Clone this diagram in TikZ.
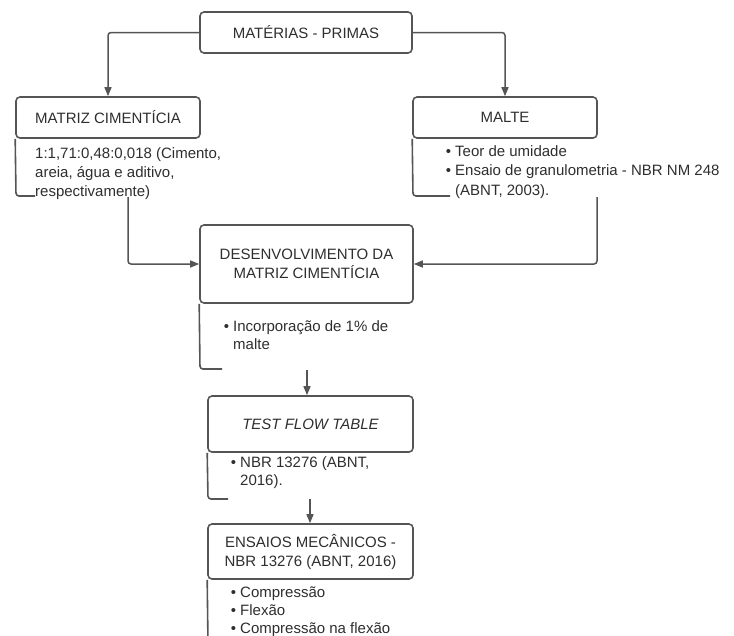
\documentclass[tikz,border=0pt]{standalone}
\usepackage{fontspec}
\setmainfont{Liberation Sans}
\usetikzlibrary{arrows.meta}
\definecolor{lc}{HTML}{555555}
\definecolor{tc}{HTML}{2E2E2E}
\newcommand{\fs}{\fontsize{15}{19}\selectfont}
\newcommand{\bul}{\llap{\textbullet\ }}
\tikzset{
  box/.style={draw=lc, line width=1.6pt, rounded corners=4pt, inner sep=0pt,
    font=\fs, text=tc, align=center},
  brk/.style={draw=lc, line width=1.6pt, rounded corners=3pt},
  arr/.style={draw=lc, line width=1.5pt, rounded corners=3pt,
    -{Triangle[length=9pt,width=7pt]}},
  ln/.style={anchor=base west, inner sep=0pt, font=\fs, text=tc}
}
\begin{document}
\begin{tikzpicture}[x=1pt,y=-1pt]
\useasboundingbox (0,0) rectangle (734,635);
% boxes
\node[box, minimum width=212pt, minimum height=41pt] (top) at (306,32.5) {MATÉRIAS - PRIMAS};
\node[box, minimum width=184pt, minimum height=41pt] (matriz) at (108,117.5) {MATRIZ CIMENTÍCIA};
\node[box, minimum width=184pt, minimum height=41pt] (malte) at (505,117.5) {MALTE};
\node[box, minimum width=213pt, minimum height=78pt] (desenv) at (306.5,264) {DESENVOLVIMENTO DA\\MATRIZ CIMENTÍCIA};
\node[box, minimum width=205pt, minimum height=56pt] (test) at (310.5,424) {\itshape TEST FLOW TABLE};
\node[box, minimum width=205pt, minimum height=55pt] (ensaios) at (310.5,551.5) {ENSAIOS MECÂNICOS -\\NBR 13276 (ABNT, 2016)};
% brackets
\draw[brk] (matriz.south west) -- (16,196) -- (35,196);
\draw[brk] (malte.south west) -- (413,196) -- (450,196);
\draw[brk] (desenv.south west) -- (200,369) -- (222,369);
\draw[brk] (test.south west) -- (208,499) -- (228,499);
\draw[brk] (ensaios.south west) -- (208,645);
% bracket texts
\node[ln] (m1) at (35,158) {1:1,71:0,48:0,018 (Cimento,};
\node[ln] (m2) at (35,177) {areia, água e aditivo,};
\node[ln] (m3) at (35,196) {respectivamente)};
\node[ln] (t1) at (455,156) {\bul Teor de umidade};
\node[ln] (t2) at (455,175) {\bul Ensaio de granulometria - NBR NM 248};
\node[ln] (t3) at (455,195) {(ABNT, 2003).};
\node[ln] (d1) at (233,331) {\bul Incorporação de 1\% de};
\node[ln] (d2) at (233,349) {malte};
\node[ln] (f1) at (240,467) {\bul NBR 13276 (ABNT,};
\node[ln] (f2) at (240,485) {2016).};
\node[ln] (e1) at (240,597) {\bul Compressão};
\node[ln] (e2) at (240,615) {\bul Flexão};
\node[ln] (e3) at (240,633) {\bul Compressão na flexão};
% connector starts
\coordinate (c1) at (128,197);
\coordinate (c2) at (597,197);
\coordinate (c3) at (307,370);
\coordinate (c4) at (310,499);
% connectors
\draw[arr] (top.west) -| (matriz.north);
\draw[arr] (top.east) -| (malte.north);
\draw[arr] (c1) |- (desenv.west);
\draw[arr] (c2) |- (desenv.east);
\draw[arr] (c3) -- (c3 |- test.north);
\draw[arr] (c4) -- (c4 |- ensaios.north);
\end{tikzpicture}
\end{document}
